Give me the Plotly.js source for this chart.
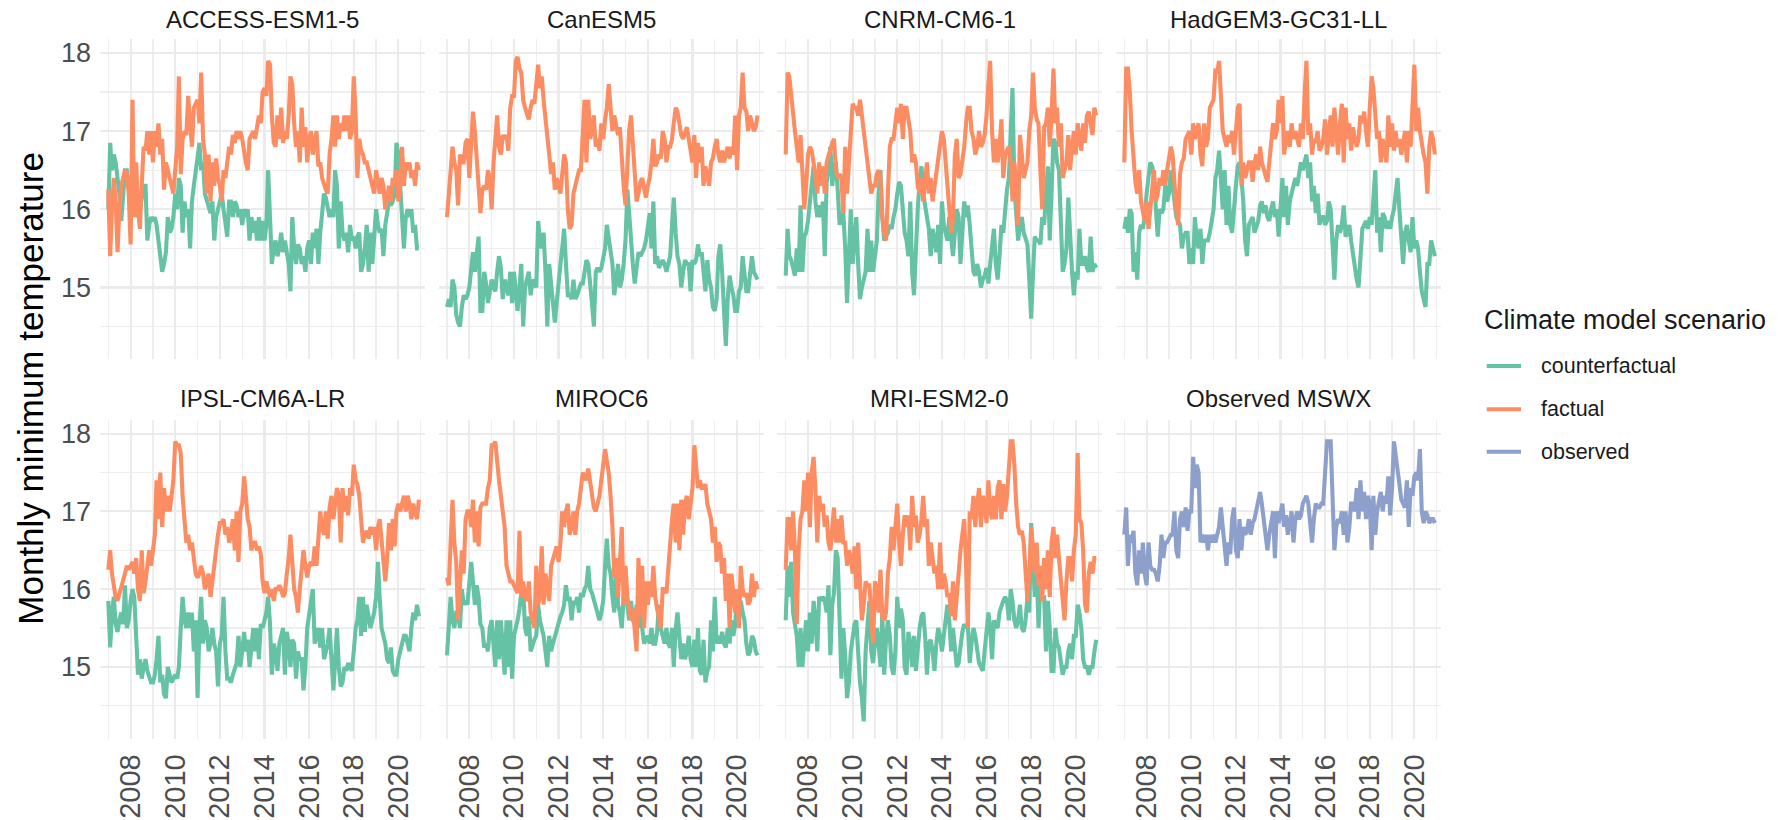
<!DOCTYPE html>
<html><head><meta charset="utf-8">
<script src="https://cdn.plot.ly/plotly-3.0.1.min.js"></script>
<style>html,body{margin:0;padding:0;background:#fff}#chart{width:1787px;height:820px}</style>
</head><body><div id="chart"></div>
<script>
// ---------------- data ----------------
const panelTitles = ["ACCESS-ESM1-5","CanESM5","CNRM-CM6-1","HadGEM3-GC31-LL","IPSL-CM6A-LR","MIROC6","MRI-ESM2-0","Observed MSWX"];
const scenarios = ["counterfactual","factual","observed"];
const legendTitle = "Climate model scenario";
const tickYears = ["2008","2010","2012","2014","2016","2018","2020"];
const yTicks = [15,16,17,18];
const startYear = 2007;

const accessFactual = [
16.25,15.4,16.0,16.4,16.1,15.45,16.0,16.3,16.4,16.5,16.45,16.2,
15.55,17.4,15.9,16.6,16.0,15.75,16.3,16.8,16.75,17.0,16.7,17.0,
16.6,17.0,16.8,17.1,16.7,16.9,16.25,16.6,16.5,16.4,16.3,16.2,
16.5,16.8,17.7,16.45,16.9,17.0,16.95,17.45,17.1,16.8,17.3,17.35,
17.4,17.1,17.75,16.9,16.7,16.2,16.7,16.1,16.6,16.3,16.65,16.4,
16.3,16.1,16.5,16.4,16.6,16.8,16.7,16.95,16.85,17.0,16.9,17.0,
16.9,16.7,16.6,16.5,16.9,16.95,17.0,16.9,17.05,17.2,17.1,17.5,
17.55,17.45,17.9,17.85,17.2,16.85,16.8,17.2,16.9,17.3,16.85,17.0,
16.9,17.2,17.7,17.6,17.1,16.8,17.0,16.6,17.3,16.8,17.05,16.6,
16.9,17.0,16.7,16.9,17.0,16.55,16.6,16.4,16.3,16.25,16.2,16.7,
16.9,17.2,16.8,17.2,16.9,17.1,17.0,17.2,17.0,17.2,16.9,17.0,
17.7,17.2,16.4,16.9,16.75,16.7,16.6,16.6,16.5,16.4,16.3,16.2,
16.5,16.3,16.2,16.4,16.3,16.0,16.2,16.3,16.1,16.4,16.3,16.5,
16.1,16.3,16.8,16.3,16.6,16.5,16.6,16.4,16.5,16.3,16.6,16.5];
const accessCounter = [
16.0,16.85,16.5,16.7,16.6,16.4,16.2,15.85,16.2,16.5,16.5,16.3,
16.1,16.0,16.2,15.9,16.1,16.0,16.2,16.3,16.3,15.6,15.8,15.9,
15.85,15.9,15.8,15.6,15.5,15.2,15.3,15.45,15.9,15.7,15.75,15.9,
16.2,16.0,16.4,16.3,15.7,16.1,15.9,16.0,15.5,16.1,16.3,16.5,
16.6,16.85,16.5,16.6,16.2,16.1,16.0,15.95,16.1,15.6,15.9,16.0,
16.1,16.2,16.0,15.8,15.65,16.1,16.1,15.9,16.1,16.05,15.9,16.0,
15.8,16.0,15.9,16.0,15.6,15.9,15.7,15.85,15.6,15.9,15.6,15.85,
15.6,15.8,16.5,15.9,15.3,15.5,15.6,15.4,15.5,15.7,15.45,15.6,
15.45,15.3,14.95,15.9,15.5,15.3,15.55,15.5,15.3,15.4,15.2,15.5,
15.6,15.3,15.7,15.5,15.75,15.3,15.7,16.0,16.2,16.15,16.0,15.9,
16.0,15.9,16.5,16.3,15.5,16.1,15.7,15.6,15.7,15.45,15.8,15.6,
15.65,15.5,15.65,15.7,15.2,15.3,15.5,15.8,15.2,15.7,15.3,15.7,
16.0,15.8,15.7,15.75,15.4,15.8,16.0,16.1,16.05,16.1,16.2,16.85,
16.7,16.3,16.0,15.5,15.9,16.0,15.9,16.0,15.7,15.8,15.5,15.5];

const canFactual = [
15.9,16.2,16.5,16.8,16.6,16.5,16.05,16.7,16.6,16.6,16.85,16.9,
16.4,16.9,17.25,17.0,16.6,16.2,15.95,16.25,16.3,16.25,16.5,16.4,
16.0,16.6,16.95,17.2,16.8,16.7,16.95,16.9,16.95,16.75,17.3,17.45,
17.45,17.9,17.95,17.8,17.75,17.4,17.3,17.2,17.15,17.3,17.4,17.35,
17.6,17.85,17.55,17.7,17.4,17.2,16.95,16.7,16.45,16.6,16.25,16.4,
16.3,16.2,16.45,16.7,16.6,16.0,15.75,15.8,16.2,16.3,16.45,16.5,
16.5,16.9,17.4,16.6,17.4,16.9,17.0,17.2,16.8,16.9,16.75,17.1,
16.9,17.15,17.3,17.6,17.2,17.0,17.2,17.05,16.95,17.05,16.6,16.3,
16.05,16.5,17.0,17.2,16.8,16.5,16.1,16.2,16.35,16.4,16.3,16.15,
16.3,16.4,16.6,16.9,16.55,16.6,16.7,16.65,17.0,16.9,16.6,16.8,
16.8,16.9,17.1,17.3,17.25,17.1,16.95,16.9,17.0,17.05,16.9,16.75,
16.6,16.95,16.4,16.85,16.6,16.8,16.3,16.55,16.4,16.3,16.6,16.65,
16.8,16.9,16.7,16.6,16.75,16.6,16.7,16.8,16.65,16.8,16.7,17.2,
16.5,17.2,17.3,17.75,17.3,17.25,17.0,17.2,17.1,17.0,17.05,17.2];
const canCounter = [
14.75,14.85,14.75,15.1,15.0,14.65,14.55,14.5,14.75,14.9,14.85,14.9,
15.0,15.2,15.45,15.2,15.45,15.65,14.7,14.7,15.2,15.05,14.8,15.0,
15.1,15.0,14.95,15.2,15.4,15.25,14.85,15.1,15.0,14.9,15.2,14.8,
15.2,14.9,14.7,15.0,15.3,14.5,15.0,15.1,15.2,14.9,15.1,15.05,
15.0,15.85,15.6,15.5,15.7,15.2,14.5,15.3,15.0,14.8,14.55,14.8,
15.0,15.3,15.5,15.75,15.3,14.9,14.9,14.85,15.1,14.85,14.9,15.0,
15.05,15.05,15.2,15.35,15.3,15.1,14.8,14.5,15.2,15.25,15.2,15.25,
15.4,15.5,15.8,15.6,15.45,15.3,14.9,15.1,15.3,15.0,15.1,15.3,
15.6,16.25,15.9,15.6,15.3,15.05,15.3,15.45,15.4,15.45,15.5,15.6,
15.75,15.95,15.5,16.1,15.3,15.4,15.25,15.3,15.35,15.3,15.2,15.3,
15.4,15.8,16.15,15.7,15.4,15.3,15.0,15.2,15.35,15.3,15.3,14.95,
15.35,15.3,15.35,15.55,15.4,15.45,15.2,14.95,15.35,15.1,15.0,14.75,
14.7,14.85,15.4,15.55,15.2,14.6,14.25,14.85,15.15,15.0,14.9,14.7,
14.7,14.95,15.0,15.4,15.2,14.95,14.95,15.2,15.4,15.2,15.15,15.1];

const cnrmFactual = [
16.7,17.75,17.7,17.5,17.3,17.0,16.8,16.6,16.95,16.5,16.0,16.3,
16.7,16.8,16.75,16.6,16.4,16.2,16.6,16.3,16.55,16.2,16.6,16.7,
16.8,16.85,16.9,16.5,16.4,16.45,16.4,15.95,16.8,16.2,16.6,17.0,
17.35,17.3,17.3,17.2,17.4,17.2,17.0,16.8,16.6,16.4,16.2,16.3,
16.3,16.45,16.5,16.4,15.9,15.7,15.6,16.2,16.8,16.9,16.9,17.1,
17.3,17.1,17.35,16.9,17.3,17.3,17.1,17.0,16.6,16.7,16.6,16.3,
16.2,16.4,16.1,16.4,16.6,16.2,16.4,16.1,16.3,16.5,16.7,16.8,
17.0,16.9,16.65,16.3,16.1,15.7,15.9,16.7,16.9,16.4,16.45,16.6,
16.8,17.1,17.3,17.3,17.0,16.9,16.7,16.8,17.0,16.8,16.85,16.95,
17.2,17.6,17.9,17.0,16.6,16.9,16.6,16.8,17.15,16.4,16.7,16.75,
16.8,16.6,16.1,16.6,16.3,15.8,16.95,16.7,16.4,16.5,16.6,17.0,
17.2,17.75,17.3,17.15,17.1,16.5,16.0,17.05,17.1,17.3,16.8,17.2,
17.8,17.1,17.3,16.8,17.1,16.4,16.5,16.6,16.95,16.5,16.8,17.0,
16.7,17.1,16.9,16.75,17.1,16.85,17.2,17.25,17.1,16.95,17.3,17.2];
const cnrmCounter = [
15.15,15.75,15.4,15.35,15.25,15.15,15.5,15.2,16.05,15.2,15.65,15.7,
15.85,16.1,16.3,16.55,16.1,15.9,16.05,15.9,16.1,15.4,16.35,16.5,
16.8,16.3,16.55,16.6,16.25,15.8,15.9,15.95,15.5,14.8,15.4,16.0,
15.3,15.6,15.9,15.3,14.85,15.0,15.1,15.2,15.75,15.2,15.6,15.2,
15.4,15.6,16.2,16.5,15.9,15.6,15.65,15.7,15.8,15.75,15.9,16.0,
16.2,16.35,16.3,15.9,15.7,15.6,15.4,16.1,15.2,14.9,15.6,16.0,
16.35,16.55,16.2,16.0,15.9,15.75,15.4,15.75,15.6,15.45,15.8,15.3,
16.1,15.8,15.7,15.6,15.9,15.6,15.4,15.7,16.0,15.9,15.3,15.7,
16.1,15.9,16.05,15.8,15.4,15.2,15.15,15.3,15.2,15.0,15.1,15.15,
15.25,15.05,15.3,15.5,15.75,15.3,15.1,15.4,15.8,15.7,16.0,16.25,
16.4,17.0,17.55,16.3,16.0,15.6,15.8,15.9,15.7,15.6,15.55,15.1,
14.6,15.2,15.65,15.6,15.6,15.55,15.9,15.8,16.2,16.55,15.6,16.2,
16.9,16.85,16.6,16.5,15.8,15.2,15.3,15.5,16.15,15.6,15.2,14.9,
15.2,15.1,15.75,15.3,15.3,15.4,15.25,15.2,15.65,15.2,15.3,15.25];

const hadFactual = [
16.6,17.8,17.8,17.5,17.0,16.6,16.35,16.2,16.5,16.1,16.0,15.85,
16.1,15.75,16.0,16.3,16.5,16.1,16.2,16.4,16.3,16.5,16.3,16.5,
16.7,16.8,16.7,16.3,16.0,15.8,16.45,16.6,16.65,16.9,16.95,17.0,
16.7,17.1,16.9,17.0,17.1,16.7,16.55,17.1,16.8,16.9,17.3,17.35,
17.4,17.8,17.75,17.9,17.4,17.0,16.9,16.8,16.95,16.85,17.0,16.7,
17.0,17.3,17.35,16.3,16.6,16.4,16.5,16.6,16.6,16.35,16.6,16.7,
16.5,16.8,16.6,16.5,16.4,16.35,16.6,16.8,17.1,16.9,17.0,17.4,
17.1,17.45,16.7,16.9,17.0,16.8,17.1,16.9,17.0,16.9,16.8,17.1,
16.9,17.5,17.9,16.95,17.1,16.7,16.9,16.85,17.0,16.75,16.8,16.9,
17.15,16.7,16.9,17.2,16.8,17.3,17.0,16.7,17.1,17.35,16.6,17.3,
16.9,17.1,16.75,17.05,16.9,16.8,16.9,17.2,17.1,17.25,17.0,16.8,
17.3,17.7,17.55,17.1,16.9,17.0,16.6,16.9,16.7,16.6,17.2,16.8,
17.1,16.75,17.0,16.8,16.9,16.7,16.85,17.0,16.6,17.0,16.8,17.3,
17.85,17.0,17.3,17.0,16.8,16.7,16.6,16.2,16.8,17.0,16.9,16.7];
const hadCounter = [
15.75,15.9,15.7,16.0,15.95,15.2,15.45,15.1,15.7,15.8,15.75,15.9,
16.2,16.45,16.6,16.55,16.4,16.0,15.65,16.0,15.95,16.0,16.3,16.1,
16.2,16.5,16.3,16.0,15.9,15.85,15.8,15.5,15.65,15.7,15.7,15.3,
15.5,15.3,15.9,15.6,15.5,15.75,15.3,15.6,15.6,15.6,15.7,15.9,
16.0,16.4,16.5,16.75,16.35,16.0,16.5,15.8,16.3,15.8,15.7,16.1,
16.3,16.55,16.6,16.4,16.1,15.6,15.4,15.8,15.85,15.9,15.7,15.8,
15.85,16.05,16.1,15.95,16.05,15.9,15.85,16.0,16.1,15.9,16.0,15.65,
16.0,16.4,15.9,16.3,15.8,16.1,16.2,16.3,16.4,16.3,16.45,16.6,
16.5,16.6,16.7,16.4,16.6,16.1,16.3,15.95,16.2,15.8,15.9,15.9,
15.8,15.85,16.1,16.0,15.5,15.1,15.6,15.8,15.7,15.8,16.05,15.65,
15.7,15.8,15.6,15.4,15.3,15.1,15.0,15.4,15.75,15.8,15.85,15.75,
15.9,15.8,16.2,16.5,15.7,15.9,15.45,15.95,15.9,15.75,15.85,15.75,
15.9,16.0,16.2,16.4,16.0,15.6,15.3,15.7,15.8,15.6,15.45,15.9,
15.5,15.6,15.5,15.2,14.95,14.85,14.75,15.3,15.3,15.6,15.5,15.4];

const ipslFactual = [
16.25,16.5,16.2,16.0,15.9,15.85,15.95,16.05,16.15,16.2,16.3,16.25,
16.3,16.35,16.2,16.4,16.0,15.85,16.5,15.95,16.1,16.3,16.5,16.3,
16.5,16.7,17.4,16.9,17.5,16.8,17.3,17.0,17.2,17.0,17.2,17.4,
17.9,17.85,17.85,17.75,17.2,16.8,16.6,16.7,16.5,16.6,16.35,16.2,
16.15,16.2,16.3,16.2,16.0,16.1,16.2,15.9,16.1,16.3,16.6,16.7,
16.85,16.85,16.9,16.7,16.8,16.6,16.7,16.9,16.5,17.0,16.35,17.0,
17.1,17.45,17.2,16.9,16.8,16.5,16.6,16.6,16.5,16.55,16.45,16.1,
15.95,16.1,16.0,15.9,16.0,15.85,16.0,16.0,16.05,16.0,15.9,15.95,
16.2,16.4,16.7,16.3,16.0,15.9,15.7,16.0,16.3,16.5,16.3,16.15,
16.3,16.35,16.3,16.55,16.3,16.6,17.0,16.8,16.7,17.0,16.65,17.05,
17.2,16.9,17.1,17.3,17.2,16.6,17.3,17.0,17.2,16.95,17.3,17.2,
17.6,17.4,17.35,17.2,16.9,16.6,16.7,16.75,16.65,16.8,16.7,16.8,
16.5,16.8,16.9,16.65,16.3,16.1,16.4,16.85,16.5,16.9,16.55,17.0,
17.1,17.0,17.1,17.2,17.0,17.2,17.1,16.9,17.1,17.0,16.9,17.15];
const ipslCounter = [
15.85,15.25,15.7,15.9,15.55,15.45,15.6,15.7,15.55,16.05,15.5,15.6,
15.85,16.0,15.9,15.4,14.9,15.1,14.85,15.0,15.1,14.95,14.85,14.8,
14.8,14.9,15.1,15.4,14.8,14.9,14.65,14.6,15.0,14.9,14.8,14.85,
14.9,14.85,15.0,15.5,15.9,15.6,15.5,15.7,15.5,15.7,15.2,15.6,
14.6,15.5,15.9,15.3,15.6,15.5,15.2,15.3,15.5,15.3,15.2,14.75,
15.3,15.4,15.9,15.2,14.85,14.85,14.8,14.9,15.0,15.05,15.4,15.0,
15.2,15.45,15.2,15.35,15.0,15.3,15.5,15.2,15.5,15.1,15.55,15.5,
15.6,15.7,15.9,15.55,14.9,15.3,15.2,14.95,15.3,15.4,15.5,14.9,
15.45,15.3,15.0,15.35,15.3,14.85,15.2,15.1,15.1,14.7,15.0,15.5,
15.7,15.8,16.0,15.3,15.4,15.5,15.25,15.5,15.1,15.2,15.3,15.5,
15.15,14.7,15.05,15.5,15.0,14.75,14.8,15.0,14.95,15.05,15.0,14.95,
15.2,15.5,15.6,15.9,15.4,15.9,15.45,15.8,15.65,15.5,15.6,15.7,
15.9,16.35,15.9,15.5,15.4,15.3,15.1,15.05,15.25,14.95,14.9,14.9,
15.1,15.2,15.3,15.4,15.4,15.3,15.2,15.5,15.7,15.6,15.8,15.65];

const mirocFactual = [
16.15,16.05,16.6,17.15,16.6,16.35,15.6,16.2,16.5,16.2,16.9,17.0,
17.0,16.8,17.15,16.6,17.0,16.55,17.05,17.1,17.1,17.1,17.3,17.4,
17.85,17.85,17.9,17.6,17.4,17.2,17.0,16.8,16.3,16.2,16.1,16.1,
16.05,16.0,15.95,16.75,15.9,16.1,15.9,15.85,16.1,15.7,15.6,15.5,
16.3,15.8,15.9,16.55,15.8,16.2,16.0,15.85,16.3,16.4,16.45,16.55,
16.35,16.6,17.0,16.8,17.0,17.1,16.7,16.8,17.0,16.7,17.0,17.1,
17.3,17.5,17.45,17.4,17.55,17.4,17.2,17.05,17.0,17.1,17.2,17.4,
17.6,17.8,17.65,17.5,17.2,16.8,16.15,16.4,15.9,16.3,16.8,15.8,
16.3,15.9,15.75,15.6,15.75,15.5,15.2,16.4,15.65,16.3,15.5,16.1,
15.8,16.1,15.9,16.3,15.9,15.75,15.6,15.5,16.0,16.0,15.95,16.3,
16.55,16.9,17.1,16.6,17.1,16.5,17.15,16.7,17.1,17.2,16.9,17.1,
17.3,17.85,17.5,17.3,17.4,17.3,17.3,17.35,17.1,17.0,16.9,16.6,
16.8,16.35,16.6,16.55,16.2,16.4,15.85,16.2,15.5,16.2,15.9,15.7,
16.0,15.5,16.3,16.0,15.9,15.95,15.8,15.85,16.2,15.9,16.1,16.0];
const mirocCounter = [
15.15,15.5,15.9,15.6,15.5,15.7,15.7,15.5,16.0,15.8,15.85,15.8,
16.1,16.35,16.1,15.8,16.05,15.9,15.55,15.5,15.25,15.3,15.2,15.5,
15.6,15.3,15.0,15.6,15.1,15.6,15.2,14.9,15.6,15.0,15.6,14.85,
15.4,15.5,15.6,15.75,15.95,16.0,15.5,15.4,15.65,15.2,15.3,15.35,
15.4,15.8,15.6,15.5,15.4,15.2,15.0,15.4,15.2,15.3,15.4,15.45,
15.6,15.65,15.7,15.8,16.05,15.85,15.9,15.6,15.85,15.8,15.9,15.7,
15.95,15.9,16.0,16.05,16.3,16.0,15.95,15.85,15.8,15.7,15.6,15.7,
15.85,16.3,16.65,16.3,16.2,15.9,15.7,16.4,15.8,15.7,15.5,15.9,
16.1,15.8,15.6,15.85,15.6,15.55,15.8,15.5,16.1,15.5,15.3,15.35,
15.4,15.3,15.5,15.3,15.3,15.45,15.8,15.5,15.4,15.3,15.5,15.3,
15.25,15.5,15.0,15.5,15.7,15.4,15.1,15.3,15.1,15.2,15.4,15.1,
15.0,15.35,15.0,15.5,14.95,14.9,15.35,14.8,14.95,15.0,15.6,15.2,
15.9,15.3,15.4,15.3,15.45,15.3,15.25,15.5,15.3,15.6,15.4,15.55,
15.9,15.6,15.85,15.7,15.6,15.3,15.15,15.2,15.4,15.35,15.2,15.15];

const mriFactual = [
16.25,16.9,16.9,16.5,17.0,16.5,15.55,16.5,16.9,17.0,17.4,17.0,
17.5,16.8,17.5,17.7,17.3,16.6,17.2,17.0,17.1,16.8,16.95,16.6,
16.5,16.8,17.05,16.6,16.9,16.6,16.95,16.6,16.6,16.3,16.5,16.4,
16.2,16.55,16.0,16.6,16.1,15.6,15.8,16.1,16.05,16.05,15.7,15.3,
16.1,16.0,15.7,16.25,15.65,15.6,15.7,16.2,16.4,16.8,16.5,16.8,
17.1,16.6,16.3,16.7,16.95,16.8,16.95,16.5,17.2,16.8,16.95,16.6,
16.7,16.9,17.2,16.8,16.9,16.3,16.6,16.4,16.2,16.3,16.0,16.6,
16.0,16.2,16.1,15.9,15.95,15.65,16.1,15.6,15.9,16.3,16.5,16.7,
16.9,16.3,15.5,17.0,16.9,17.2,16.8,17.1,17.3,16.8,17.2,17.1,
16.85,17.4,17.0,16.9,17.2,16.9,17.3,17.4,16.9,17.35,17.0,17.2,
17.5,17.9,17.9,17.6,17.1,16.8,16.7,16.75,16.6,16.3,15.85,16.2,
16.8,16.5,16.2,16.6,16.05,16.3,15.85,16.4,16.0,16.5,15.9,16.6,
16.8,16.4,16.7,16.4,16.1,15.8,15.6,16.1,16.4,16.4,16.1,16.5,
16.7,17.75,16.9,16.85,16.5,15.8,15.7,16.2,16.35,16.2,16.4,16.4];
const mriCounter = [
15.6,16.3,15.9,16.35,15.7,15.55,15.4,15.0,15.5,15.0,15.3,15.6,
15.2,15.7,15.3,15.85,15.6,15.2,15.9,15.85,15.9,15.85,15.7,16.05,
15.15,15.8,15.95,16.5,16.4,15.7,14.85,15.5,15.15,14.6,14.8,15.2,
15.4,15.55,15.6,15.1,14.8,14.6,14.3,15.2,15.6,15.85,15.2,15.05,
15.3,15.5,15.3,15.0,15.7,14.9,15.35,15.6,15.4,15.0,14.9,15.2,
15.9,15.5,15.75,15.6,15.0,14.9,15.45,15.3,15.0,15.4,14.95,15.3,
15.5,15.65,15.7,15.4,14.9,15.3,15.35,15.2,14.95,15.3,15.5,15.4,
15.2,15.4,15.6,15.8,15.6,15.2,15.5,15.3,15.0,15.05,15.3,15.45,
15.55,15.5,15.55,15.05,15.3,15.5,15.4,15.2,15.05,15.0,14.95,15.2,
15.5,15.7,15.5,15.1,15.6,15.55,15.5,15.7,15.8,15.85,15.9,15.85,
15.6,16.0,15.85,15.6,15.5,15.6,15.8,15.5,15.45,15.6,15.9,15.7,
16.85,16.3,15.9,16.3,15.5,16.05,15.9,15.9,15.2,15.85,15.5,14.95,
14.95,15.5,15.3,15.25,15.1,14.9,15.0,15.0,15.2,15.3,15.1,15.4,
15.4,15.8,15.7,15.5,15.1,15.0,15.0,14.9,15.0,15.0,15.2,15.35];

const observedMswx = [
16.7,17.05,16.3,16.7,16.6,16.75,16.2,16.05,16.5,16.2,16.6,16.2,
16.05,16.6,16.3,16.25,16.25,16.2,16.1,16.3,16.7,16.4,16.6,16.6,
16.65,16.7,16.7,17.0,16.5,16.4,16.9,17.0,16.8,17.05,16.75,17.0,
17.0,17.7,17.3,17.6,17.5,16.6,16.7,16.6,16.7,16.5,16.7,16.6,
16.7,16.6,16.7,16.8,17.05,16.8,16.65,16.3,16.6,16.45,16.9,17.05,
16.5,16.4,16.9,16.5,16.8,16.7,16.75,16.9,16.7,16.85,16.9,17.0,
17.1,17.25,17.1,16.9,16.6,16.5,16.7,16.9,17.0,16.4,17.0,16.85,
17.0,17.1,16.8,16.95,16.7,16.9,17.0,16.6,16.9,17.0,16.9,16.95,
17.1,17.15,17.2,17.1,16.9,16.6,16.9,17.1,17.05,17.05,17.1,17.1,
17.5,17.9,17.9,17.9,17.2,16.5,16.8,16.9,16.85,17.0,16.7,17.0,
16.6,16.8,17.1,17.1,17.0,17.3,16.9,17.4,17.0,17.25,16.9,17.2,
17.1,16.5,17.2,16.7,17.0,17.1,17.25,17.0,17.2,17.1,17.45,16.95,
17.3,17.9,17.75,17.5,17.35,17.15,17.1,17.05,17.4,16.8,17.3,17.2,
17.45,17.5,17.4,17.8,17.0,16.85,17.0,16.95,16.85,16.9,16.9,16.85];

// ---------------- build ----------------
const monthDates = accessFactual.map((_, i) => {
  const y = startYear + Math.floor(i / 12), m = (i % 12) + 1;
  return y + "-" + String(m).padStart(2, "0") + "-01";
});

const panelSeries = [
  [accessCounter, accessFactual], [canCounter, canFactual],
  [cnrmCounter, cnrmFactual], [hadCounter, hadFactual],
  [ipslCounter, ipslFactual], [mirocCounter, mirocFactual],
  [mriCounter, mriFactual], [observedMswx]
];
const colors = {counterfactual: "#66C2A5", factual: "#FC8D62", observed: "#8DA0CB"};
const LW = 4.1;

const W = 1787, H = 820;
const colLeft = [100, 438.7, 777.4, 1116], panelW = 325;
const rowTop = [39.3, 420], rowH = [320, 318.5];

const traces = [];
panelSeries.forEach((series, p) => {
  const ax = p === 0 ? "" : String(p + 1);
  const names = series.length === 1 ? ["observed"] : ["counterfactual", "factual"];
  series.forEach((vals, k) => {
    const nm = names[k];
    traces.push({
      type: "scatter", mode: "lines", x: monthDates, y: vals,
      xaxis: "x" + ax, yaxis: "y" + ax, name: nm, legendgroup: nm,
      showlegend: false, line: {color: colors[nm], width: LW},
      hoverinfo: "x+y+name"
    });
  });
});

const layout = {
  width: W, height: H, margin: {l: 0, r: 0, t: 0, b: 0},
  paper_bgcolor: "#fff", plot_bgcolor: "#fff",
  font: {family: "Liberation Sans, Arial, sans-serif", color: "#1A1A1A"},
  showlegend: false,
  annotations: [], shapes: []
};

const tickVals = tickYears.map(y => y + "-01-01");
for (let p = 0; p < 8; p++) {
  const r = Math.floor(p / 4), c = p % 4;
  const ax = p === 0 ? "" : String(p + 1);
  const x0 = colLeft[c] / W, x1 = (colLeft[c] + panelW) / W;
  const y1 = 1 - rowTop[r] / H, y0 = 1 - (rowTop[r] + rowH[r]) / H;
  layout["xaxis" + ax] = {
    domain: [x0, x1], anchor: "y" + ax, type: "date",
    range: ["2006-08-18", "2021-03-12"],
    tickmode: "array", tickvals: tickVals, ticktext: tickYears,
    showticklabels: r === 1, tickangle: -90,
    tickfont: {size: 29, color: "#4D4D4D"}, ticks: "", ticklabelstandoff: 9,
    showgrid: true, gridcolor: "#EBEBEB", gridwidth: 2.2,
    minor: {tickmode: "array", tickvals: ["2007-01-01","2009-01-01","2011-01-01","2013-01-01","2015-01-01","2017-01-01","2019-01-01","2021-01-01"], showgrid: true, gridcolor: "#EEEEEE", gridwidth: 1.2},
    zeroline: false, showline: false, fixedrange: true
  };
  layout["yaxis" + ax] = {
    domain: [y0, y1], anchor: "x" + ax, range: [14.08, 18.175],
    tickmode: "array", tickvals: yTicks, ticktext: yTicks.map(String),
    showticklabels: c === 0, tickfont: {size: 27, color: "#4D4D4D"},
    ticks: "", ticklabelstandoff: 8,
    showgrid: true, gridcolor: "#EBEBEB", gridwidth: 2.2,
    minor: {dtick: 0.5, tick0: 14.5, showgrid: true, gridcolor: "#EEEEEE", gridwidth: 1.2},
    zeroline: false, showline: false, fixedrange: true
  };
  layout.annotations.push({
    text: panelTitles[p], xref: "paper", yref: "paper",
    x: (colLeft[c] + panelW / 2) / W, y: 1 - (r === 0 ? 19.5 : 398.5) / H,
    xanchor: "center", yanchor: "middle", showarrow: false,
    font: {size: 24, color: "#1A1A1A"}
  });
}
layout.annotations.push({
  text: "Monthly minimum temperature", xref: "paper", yref: "paper",
  x: 31 / W, y: 1 - 388.7 / H, xanchor: "center", yanchor: "middle",
  textangle: -90, showarrow: false, font: {size: 35, color: "#000"}
});

// legend (title, keys, labels)
layout.annotations.push({
  text: legendTitle, xref: "paper", yref: "paper",
  x: 1482 / W, y: 1 - 320 / H, xanchor: "left", yanchor: "middle",
  showarrow: false, font: {size: 27, color: "#1A1A1A"}
});
const legendRowsY = [366, 409.3, 451.7];
scenarios.forEach((s, i) => {
  const yy = 1 - legendRowsY[i] / H;
  layout.shapes.push({
    type: "line", xref: "paper", yref: "paper",
    x0: 1486.7 / W, x1: 1521 / W, y0: yy, y1: yy,
    line: {color: colors[s], width: LW}
  });
  layout.annotations.push({
    text: s, xref: "paper", yref: "paper",
    x: 1538.5 / W, y: yy, xanchor: "left", yanchor: "middle",
    showarrow: false, font: {size: 21.5, color: "#1A1A1A"}
  });
});

Plotly.newPlot("chart", traces, layout, {staticPlot: true, displayModeBar: false});
</script></body></html>
